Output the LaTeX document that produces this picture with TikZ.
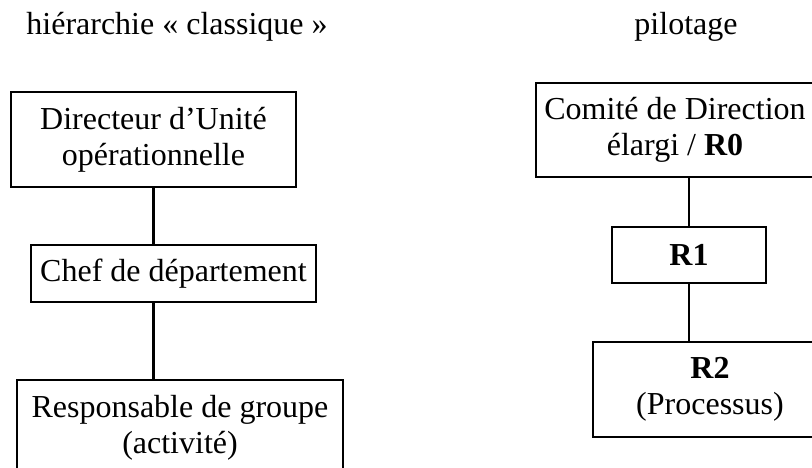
\documentclass[tikz,border=0pt]{standalone}
\usepackage{fontspec}
\setmainfont{Liberation Serif}
\begin{document}
\begin{tikzpicture}[x=1pt,y=-1pt,
  every node/.style={font=\fontsize{32}{36}\selectfont},
  box/.style={draw,line width=2pt,rectangle,inner sep=0pt,align=center},
  link/.style={line width=2.2pt}]
\clip (0,0) rectangle (812,468);
\useasboundingbox (0,0) rectangle (812,468);
% titles
\node[anchor=base] (t1) at (177,35) {hiérarchie « classique »};
\node[anchor=base] (t2) at (686,35) {pilotage};
% left column
\node[box,minimum width=285pt,minimum height=95pt] (b1) at (153.5,139.5) {Directeur d’Unité\\opérationnelle};
\node[box,minimum width=285pt,minimum height=57pt] (b2) at (173.5,273.5) {Chef de département};
\node[box,minimum width=326pt,minimum height=95pt] (b3) at (180,427.5) {Responsable de groupe\\(activité)};
% right column
\node[box,minimum width=278pt,minimum height=94pt] (r0) at (675,130) {Comité de Direction\\élargi / \textbf{R0}};
\node[box,minimum width=154pt,minimum height=56pt] (r1) at (689,255) {\textbf{R1}};
\node[box,minimum width=234pt,minimum height=95pt] (r2) at (710,389.5) {\textbf{R2}\\(Processus)};
% connectors
\draw[link] (b1.south) -- (b1.south |- b2.north);
\draw[link] (b2.south -| b1.south) -- (b3.north -| b1.south);
\draw[link] (r1.north) -- (r1.north |- r0.south);
\draw[link] (r1.south) -- (r1.south |- r2.north);
\end{tikzpicture}
\end{document}
